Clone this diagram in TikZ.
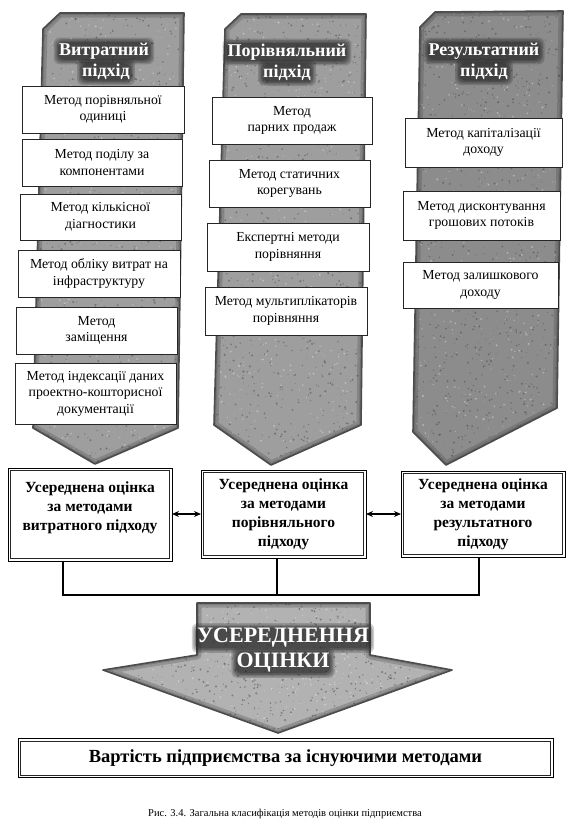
\documentclass[tikz,border=0pt]{standalone}
\usepackage{fontspec}
\setmainfont{Liberation Serif}
\usetikzlibrary{arrows.meta,calc}
\pgfdeclarelayer{base}
\pgfdeclarelayer{mid}
\pgfsetlayers{base,mid,main}
\tikzset{
 mbox/.style={draw=black!85, line width=0.7pt, fill=white, align=center, inner sep=0pt, outer sep=0pt, font=\fontsize{13.8}{16.5}\selectfont},
 abox/.style={draw=black, line width=0.9pt, fill=white, align=center, inner sep=0pt, outer sep=0pt, font=\fontsize{15.5}{19}\selectfont\bfseries},
 inner/.style={draw=black!85, line width=0.6pt},
 bfill/.style={fill=black!38},
 bedge/.style={draw=black!70, line width=1.6pt, line join=round},
 hl/.style={inner sep=0pt, align=center, text=white, font=\fontsize{18}{20}\selectfont\bfseries},
 bigl/.style={inner sep=0pt, align=center, text=white, font=\fontsize{22}{25}\selectfont\bfseries},
 conn/.style={line width=2.2pt, black},
 dbl/.style={line width=1.8pt, {Stealth[length=7pt,width=6pt]}-{Stealth[length=7pt,width=6pt]}},
}
% box: name, x1, y1, x2, y2, text
\newcommand\mbx[6]{\node[mbox,minimum width={#4-#2},minimum height={#5-#3}] (#1) at ({(#2+#4)/2},{(#3+#5)/2}) {#6};}
\newcommand\abx[7][]{\node[abox,#1,minimum width={#5-#3},minimum height={#6-#4}] (#2) at ({(#3+#5)/2},{(#4+#6)/2}) {#7};
 \draw[inner] ([shift={(2.6,2.6)}]#2.north west) rectangle ([shift={(-2.6,-2.6)}]#2.south east);}
% banner: polygon, x0, y0, w, h, fill style
\newcommand\banner[6]{%
 \begin{pgfonlayer}{base}
 \fill[#6] #1;
 \begin{scope}
  \clip #1;
  \foreach \i in {1,...,900}{\fill[black!75,opacity=.45] ({#2+#4*rnd},{#3+#5*rnd}) circle ({0.3+0.9*rnd});}
  \foreach \i in {1,...,500}{\fill[white,opacity=.35] ({#2+#4*rnd},{#3+#5*rnd}) circle ({0.3+0.8*rnd});}
  \draw[black!70, line width=9pt, opacity=.3, line join=round] #1;
  \draw[black!70, line width=4pt, opacity=.3, line join=round] #1;
 \end{scope}
 \draw[bedge] #1;
 \end{pgfonlayer}}
% glowing text: name, x, y, style, text
\newcommand\halo[5]{%
 \node[#4] (#1) at (#2,#3) {#5};
 \begin{pgfonlayer}{mid}
 \foreach \s/\o in {5/0.22,3.5/0.25,2/0.3,0.5/0.35}{
  \fill[black!85, opacity=\o, rounded corners=6pt] ([shift={(-\s,-\s)}]#1.north west) rectangle ([shift={(\s,\s)}]#1.south east);}
 \end{pgfonlayer}}
\begin{document}
\begin{tikzpicture}[x=1pt,y=-1pt]
\begin{pgfonlayer}{base}
\useasboundingbox (0,0) rectangle (570,831);
\fill[white] (0,0) rectangle (570,831);
\end{pgfonlayer}
\pgfmathsetseed{7}
% banners
\banner{(43,29) -- (60,13) -- (184,13) -- (178,428) -- (95,464) -- (33,428) -- cycle}{33}{13}{151}{451}{bfill}
\banner{(225,29) -- (241,14) -- (366,14) -- (361,425) -- (271,465) -- (214,425) -- cycle}{214}{14}{152}{451}{bfill}
\banner{(420,27) -- (435,12) -- (563,11) -- (557,408) -- (446,465) -- (413,432) -- cycle}{413}{11}{150}{454}{fill=black!45}
% headers
\halo{h1a}{104}{51}{hl}{Витратний}
\halo{h1b}{106}{72}{hl}{підхід}
\halo{h2a}{287}{52}{hl}{Порівняльний}
\halo{h2b}{287}{73}{hl}{підхід}
\halo{h3a}{484}{51}{hl}{Результатний}
\halo{h3b}{484}{72}{hl}{підхід}
% column 1
\mbx{b11}{22}{86}{184}{133}{Метод порівняльної\\одиниці}
\mbx{b12}{22}{139}{182}{186}{Метод поділу за\\компонентами}
\mbx{b13}{20}{194}{181}{240}{Метод кількісної\\діагностики}
\mbx{b14}{18}{250}{180}{297}{Метод обліку витрат на\\інфраструктуру}
\mbx{b15}{16}{307}{177}{354}{Метод\\заміщення}
\mbx{b16}{15}{363}{176}{424}{Метод індексації даних\\проектно-кошторисної\\документації}
% column 2
\mbx{b21}{212}{97}{372}{144}{Метод\\парних продаж}
\mbx{b22}{209}{160}{370}{207}{Метод статичних\\корегувань}
\mbx{b23}{207}{223}{369}{271}{Експертні методи\\порівняння}
\mbx{b24}{205}{287}{367}{335}{Метод мультиплікаторів\\порівняння}
% column 3
\mbx{b31}{405}{118}{562}{167}{Метод капіталізації\\доходу}
\mbx{b32}{403}{191}{560}{240}{Метод дисконтування\\грошових потоків}
\mbx{b33}{403}{262}{558}{308}{Метод залишкового\\доходу}
% averaged estimates
\abx[text depth=17pt]{A}{8}{468}{172}{561}{Усереднена оцінка\\за методами\\витратного підходу}
\abx{B}{201}{470}{366}{558}{Усереднена оцінка\\за методами\\порівняльного\\підходу}
\abx{C}{401}{471}{565}{557}{Усереднена оцінка\\за методами\\результатного\\підходу}
\draw[dbl] (A.east |- B.east) -- (B.west);
\draw[dbl] (C.west |- B.east) -- (B.east);
\coordinate (busL) at (63,595);
\coordinate (busM) at (277,595);
\coordinate (busR) at (479,595);
\draw[conn] (A.south -| busL) -- (busL) -- (busR) -- (C.south -| busR);
\draw[conn] (B.south -| busM) -- (busM);
% big arrow
\banner{(197,603) -- (370,603) -- (370,655) -- (452,670) -- (278,733) -- (103,670) -- (197,655) -- cycle}{103}{603}{349}{130}{fill=black!30}
\halo{u1}{283}{638}{bigl}{УСЕРЕДНЕННЯ}
\halo{u2}{283}{663}{bigl}{ОЦІНКИ}
% result
\node[abox, minimum width=535, minimum height=39, font=\fontsize{18.5}{20}\selectfont\bfseries] (F) at (285.5,758) {Вартість підприємства за існуючими методами};
\draw[inner] ([shift={(2.6,2.6)}]F.north west) rectangle ([shift={(-2.6,-2.6)}]F.south east);
\node[font=\fontsize{10.5}{12}\selectfont, inner sep=0pt] (cap) at (285,814) {Рис. 3.4. Загальна класифікація методів оцінки підприємства};
\end{tikzpicture}
\end{document}
